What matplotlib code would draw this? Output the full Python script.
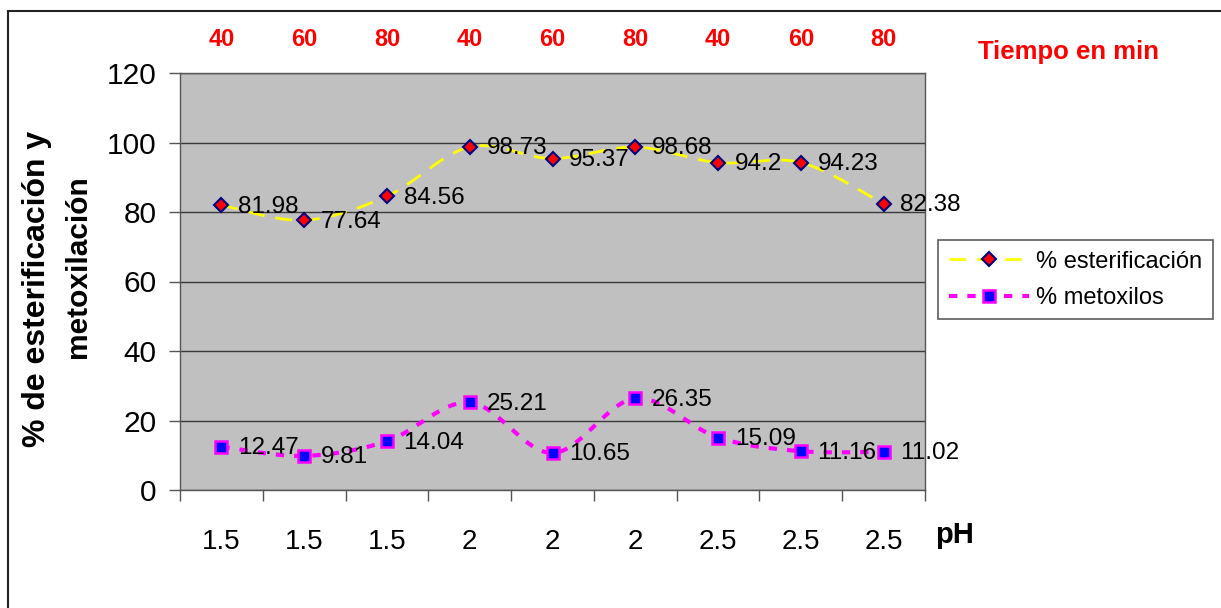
import numpy as np
import matplotlib
matplotlib.use("Agg")
import matplotlib.pyplot as plt
from matplotlib.patches import Rectangle
from matplotlib.lines import Line2D

plt.rcParams['font.family'] = ['Liberation Sans', 'DejaVu Sans']

# Data
ph_labels = ["1.5", "1.5", "1.5", "2", "2", "2", "2.5", "2.5", "2.5"]
time_labels = ["40", "60", "80", "40", "60", "80", "40", "60", "80"]
esterificacion = [81.98, 77.64, 84.56, 98.73, 95.37, 98.68, 94.2, 94.23, 82.38]
metoxilos = [12.47, 9.81, 14.04, 25.21, 10.65, 26.35, 15.09, 11.16, 11.02]

W, H = 1221, 608


def smooth(xs, ys, n=30):
    """Bezier smoothing through every point (like a smoothed line chart)."""
    xs = np.asarray(xs, float)
    ys = np.asarray(ys, float)
    px = np.concatenate([[xs[0]], xs, [xs[-1]]])
    py = np.concatenate([[ys[0]], ys, [ys[-1]]])
    outx, outy = [], []
    for i in range(1, len(px) - 2):
        p0, p1, p2, p3 = (np.array([px[j], py[j]]) for j in (i - 1, i, i + 1, i + 2))
        c1 = p1 + (p2 - p0) / 6.0
        c2 = p2 - (p3 - p1) / 6.0
        t = np.linspace(0, 1, n)[:, None]
        b = ((1 - t) ** 3) * p1 + 3 * ((1 - t) ** 2) * t * c1 + 3 * (1 - t) * t ** 2 * c2 + t ** 3 * p2
        outx.extend(b[:, 0])
        outy.extend(b[:, 1])
    return np.array(outx), np.array(outy)


fig = plt.figure(figsize=(W / 100, H / 100), dpi=100)
fig.patch.set_facecolor('white')

# Chart-area frame
fig.add_artist(Rectangle((8 / W, -0.1), 1.2, 1 - 11 / H + 0.1, transform=fig.transFigure,
                         fill=False, edgecolor='#222222', linewidth=1.5))

ax = fig.add_axes([180 / W, 1 - 490 / H, 745 / W, 417 / H])
ax.set_facecolor('#C0C0C0')

x = np.arange(len(ph_labels))
ax.set_xlim(-0.5, len(ph_labels) - 0.5)
ax.set_ylim(0, 120)

ax.set_yticks(np.arange(0, 121, 20))
ax.yaxis.grid(True, color='#3a3a3a', linewidth=1.0)
ax.set_axisbelow(True)
ax.tick_params(axis='y', direction='out', length=8, width=1, color='#555555',
               labelsize=21.5, pad=9)

# Category ticks at the bin boundaries, labels at the centres
ax.set_xticks(np.arange(-0.5, len(ph_labels) + 0.5, 1.0))
ax.set_xticklabels([])
ax.set_xticks(x, minor=True)
ax.set_xticklabels(ph_labels, minor=True)
ax.tick_params(axis='x', which='major', direction='out', length=8, width=1, color='#555555')
ax.tick_params(axis='x', which='minor', length=0, labelsize=20, pad=28)

for s in ax.spines.values():
    s.set_color('#555555')
    s.set_linewidth(1.0)

est_style = dict(color='#FFFF00', linewidth=2, dashes=(6, 4))
met_style = dict(color='#FF00FF', linewidth=3.0, dashes=(2.0, 2.4), dash_capstyle='butt')
est_marker = dict(marker='D', markersize=7.5, markerfacecolor='#FF0000',
                  markeredgecolor='#000080', markeredgewidth=1.5)
met_marker = dict(marker='s', markersize=8, markerfacecolor='#0000FF',
                  markeredgecolor='#FF00FF', markeredgewidth=1.8)

# Smoothed lines
sx, sy = smooth(x, esterificacion)
ax.plot(sx, sy, zorder=2, **est_style)
sx2, sy2 = smooth(x, metoxilos)
ax.plot(sx2, sy2, zorder=2, **met_style)

ax.plot(x, esterificacion, linestyle='none', zorder=3, **est_marker)
ax.plot(x, metoxilos, linestyle='none', zorder=3, **met_marker)

for series in (esterificacion, metoxilos):
    for xi, v in zip(x, series):
        ax.annotate(f"{v:g}", (xi, v), xytext=(12, -1), textcoords='offset points',
                    ha='left', va='center', fontsize=17.5, color='black', zorder=4)

# Reaction times along the top
for xi, t in zip(x, time_labels):
    ax.text(xi, 1 + 33 / 417, t, transform=ax.get_xaxis_transform(), ha='center', va='center',
            fontsize=17, fontweight='bold', color='#FF0000')
fig.text(1069 / W, 1 - 52 / H, "Tiempo en min", ha='center', va='center',
         fontsize=18.5, fontweight='bold', color='#FF0000')

fig.text(955 / W, 1 - 535 / H, "pH", ha='center', va='center',
         fontsize=21, fontweight='bold', color='black')

# Y-axis title on two lines
fig.text(37 / W, 1 - 289 / H, "% de esterificación y", rotation=90,
         ha='center', va='center', fontsize=23, fontweight='bold')
fig.text(78 / W, 1 - 267 / H, "metoxilación", rotation=90,
         ha='center', va='center', fontsize=21.5, fontweight='bold')

# Legend
handles = [
    Line2D([], [], **est_style, **est_marker),
    Line2D([], [], **met_style, **met_marker),
]
leg = fig.legend(handles, ["% esterificación", "% metoxilos"],
                 loc='upper left', bbox_to_anchor=(938 / W, 1 - 240 / H),
                 fontsize=17, frameon=True, fancybox=False, handlelength=3.4,
                 borderpad=0.45, labelspacing=0.6, handletextpad=0.3, borderaxespad=0)
leg.get_frame().set_edgecolor('#333333')
leg.get_frame().set_linewidth(1.2)

fig.savefig("out.png", dpi=100)
